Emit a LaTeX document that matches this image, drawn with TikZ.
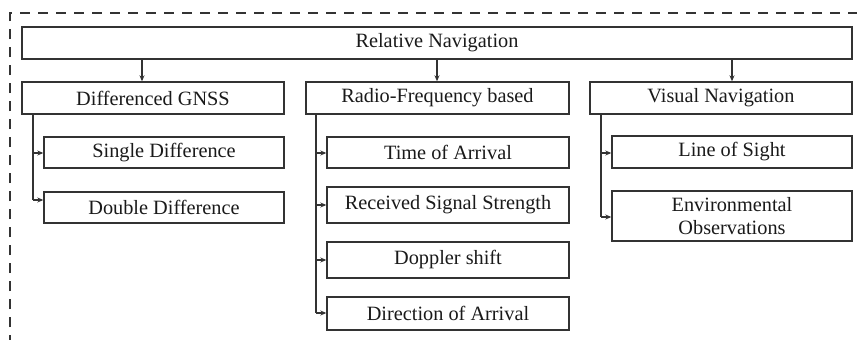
\documentclass[tikz,border=0pt]{standalone}
\usepackage{fontspec}
\setmainfont{Liberation Serif}
\usetikzlibrary{arrows.meta,calc}
\definecolor{linec}{HTML}{333333}
\definecolor{textc}{HTML}{1A1A1A}
\tikzset{
  box/.style={draw=linec, line width=1.4pt, rectangle, inner sep=0pt, text=textc,
    font=\fontsize{20.3}{23}\selectfont, align=center},
  conn/.style={draw=linec, line width=1.2pt, -{Stealth[length=6pt,width=5pt]}},
  trunk/.style={draw=linec, line width=1.2pt},
  frame/.style={draw=linec, line width=1.2pt, dash pattern=on 10pt off 8pt}
}
\begin{document}
\begin{tikzpicture}[x=1pt,y=-1pt]
\useasboundingbox[fill=white] (0,0) rectangle (857,340);
\draw[frame] (10,345) -- (10,13) -- (860,13);
% root
\node[box, minimum width=830pt, minimum height=32pt] (root) at (437,43) {Relative Navigation};
% level 2
\node[box, minimum width=262pt, minimum height=32pt] (dg) at (153,98) {Differenced GNSS};
\node[box, minimum width=263pt, minimum height=32pt] (rf) at (437.5,98) {Radio-Frequency based};
\node[box, minimum width=262pt, minimum height=32pt] (vn) at (721,98) {Visual Navigation};
% level 3
\node[box, minimum width=240pt, minimum height=31pt] (sd) at (164,152.5) {Single Difference};
\node[box, minimum width=240pt, minimum height=31pt] (dd) at (164,207.5) {Double Difference};
\node[box, minimum width=242pt, minimum height=31pt] (toa) at (448,152.5) {Time of Arrival};
\node[box, minimum width=242pt, minimum height=36pt] (rss) at (448,205) {Received Signal Strength};
\node[box, minimum width=242pt, minimum height=36pt] (ds) at (448,260) {Doppler shift};
\node[box, minimum width=242pt, minimum height=33pt] (doa) at (448,313.5) {Direction of Arrival};
\node[box, minimum width=240pt, minimum height=32pt] (los) at (732,152) {Line of Sight};
\node[box, minimum width=240pt, minimum height=50pt] (eo) at (732,216) {Environmental\\Observations};
% x positions
\coordinate (xa) at (142,0);
\coordinate (xb) at (437,0);
\coordinate (xc) at (732,0);
\coordinate (xg) at (33,0);
\coordinate (xr) at (316,0);
\coordinate (xv) at (601,0);
% root to level 2
\draw[conn] (root.south -| xa) -- (dg.north -| xa);
\draw[conn] (root.south -| xb) -- (rf.north -| xb);
\draw[conn] (root.south -| xc) -- (vn.north -| xc);
% trunks
\draw[trunk] (dg.south -| xg) -- ([yshift=7.5pt]dd.west -| xg);
\draw[trunk] (rf.south -| xr) -- ([yshift=0.5pt]doa.west -| xr);
\draw[trunk] (vn.south -| xv) -- ([yshift=-1pt]eo.west -| xv);
% branches
\draw[conn] ([yshift=-0.5pt]sd.west -| xg) -- ([yshift=-0.5pt]sd.west);
\draw[conn] ([yshift=7.5pt]dd.west -| xg) -- ([yshift=7.5pt]dd.west);
\draw[conn] ([yshift=-0.5pt]toa.west -| xr) -- ([yshift=-0.5pt]toa.west);
\draw[conn] (rss.west -| xr) -- (rss.west);
\draw[conn] (ds.west -| xr) -- (ds.west);
\draw[conn] ([yshift=0.5pt]doa.west -| xr) -- ([yshift=0.5pt]doa.west);
\draw[conn] ([yshift=-1pt]los.west -| xv) -- ([yshift=-1pt]los.west);
\draw[conn] ([yshift=-1pt]eo.west -| xv) -- ([yshift=-1pt]eo.west);
\end{tikzpicture}
\end{document}
